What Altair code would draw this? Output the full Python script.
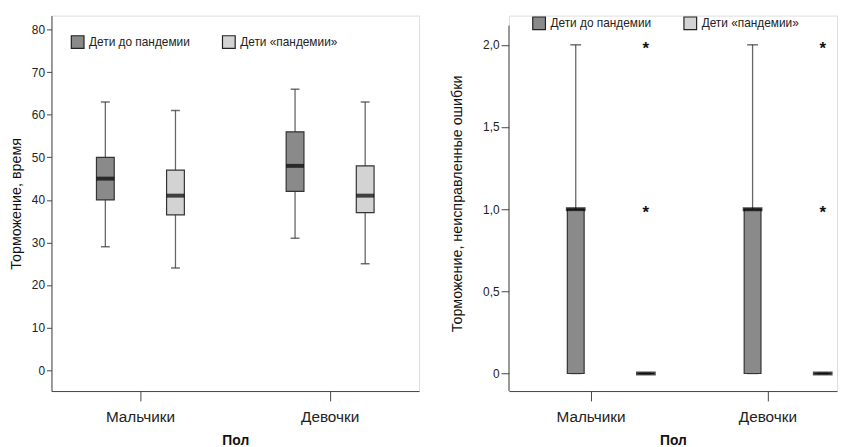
import altair as alt
import pandas as pd

# ---------------- data ----------------
sex_order = ["Мальчики", "Девочки"]
group_order = ["Дети до пандемии", "Дети «пандемии»"]
group_colors = ["#8a8a8a", "#d3d3d3"]

box_sex = ["Мальчики", "Мальчики", "Девочки", "Девочки"]
box_group = ["Дети до пандемии", "Дети «пандемии»", "Дети до пандемии", "Дети «пандемии»"]

# Торможение, время
time_min = [29, 24, 31, 25]
time_q1 = [40, 36.5, 42, 37]
time_med = [45, 41, 48, 41]
time_q3 = [50, 47, 56, 48]
time_max = [63, 61, 66, 63]

# Торможение, неисправленные ошибки
err_min = [0, 0, 0, 0]
err_q1 = [0, 0, 0, 0]
err_med = [1, 0, 1, 0]
err_q3 = [1, 0, 1, 0]
err_max = [2, 0, 2, 0]

out_sex = ["Мальчики", "Мальчики", "Девочки", "Девочки"]
out_group = ["Дети «пандемии»", "Дети «пандемии»", "Дети «пандемии»", "Дети «пандемии»"]
out_value = [1, 2, 1, 2]

time_ticks = [0, 10, 20, 30, 40, 50, 60, 70, 80]
err_ticks = [0, 0.5, 1.0, 1.5, 2.0]
err_axis_span = [-0.107, 2.117]

FONT = "Liberation Sans"


def make_df(mn, q1, med, q3, mx):
    return pd.DataFrame({"sex": box_sex, "group": box_group, "mn": mn, "q1": q1,
                         "med": med, "q3": q3, "mx": mx})


def panel(df, ydomain, yticks, ytitle, width, height, xscale, offscale, legend_xy,
          box_size, cap_size, med_size, label_expr, ytitle_pad, ytick_size,
          out_df=None, axis_span=None):
    xaxis = alt.Axis(title="Пол", labelFontSize=15.5, labelFont=FONT, labelColor="#222",
                     titleFont=FONT, titleFontSize=14, titleFontWeight="bold",
                     titleColor="#111", tickSize=10, labelPadding=9, titlePadding=9,
                     domainColor="#444", tickColor="#444", labelAngle=0)
    x = alt.X("sex:N", sort=sex_order, scale=xscale, axis=xaxis)
    xo = alt.XOffset("group:N", sort=group_order, scale=offscale)
    yscale = alt.Scale(domain=ydomain, nice=False, zero=False)
    yaxis = alt.Axis(title=ytitle, values=yticks, labelExpr=label_expr,
                     labelFontSize=12, labelFont=FONT, labelColor="#222",
                     titleFont=FONT, titleFontSize=14.5, titleFontWeight="normal",
                     titleColor="#111", tickSize=ytick_size, labelPadding=2,
                     titlePadding=ytitle_pad, domainColor="#444", tickColor="#444",
                     grid=False, domain=axis_span is None)

    def Y(f):
        return alt.Y(f, type="quantitative", scale=yscale, axis=yaxis)

    base = alt.Chart(df)
    whisk = base.mark_rule(color="#666", strokeWidth=1.3).encode(
        x=x, xOffset=xo, y=Y("mn"), y2="mx")
    cap_lo = base.mark_tick(color="#333", size=cap_size, thickness=1.5).encode(
        x=x, xOffset=xo, y=Y("mn"))
    cap_hi = base.mark_tick(color="#333", size=cap_size, thickness=1.5).encode(
        x=x, xOffset=xo, y=Y("mx"))
    box = base.mark_bar(size=box_size, stroke="#333", strokeWidth=1.2).encode(
        x=x, xOffset=xo, y=Y("q1"), y2="q3",
        color=alt.Color("group:N", sort=group_order,
                        scale=alt.Scale(domain=group_order, range=group_colors),
                        legend=alt.Legend(orient="none", legendX=legend_xy[0],
                                          legendY=legend_xy[1], direction="horizontal",
                                          title=None, symbolType="square",
                                          symbolSize=165, symbolStrokeColor="#222",
                                          symbolStrokeWidth=1.2, labelFont=FONT,
                                          labelFontSize=12, labelColor="#222",
                                          columnPadding=29, padding=0)))
    med = base.mark_tick(color="black", size=med_size, thickness=4).encode(
        x=x, xOffset=xo, y=Y("med"))
    layers = [whisk, cap_lo, cap_hi, box, med]
    if out_df is not None:
        outl = alt.Chart(out_df).mark_text(text="*", font=FONT, fontSize=17,
                                           fontWeight="bold", color="#111",
                                           baseline="middle", dy=4).encode(
            x=x, xOffset=xo, y=Y("value"))
        layers.append(outl)
    if axis_span is not None:
        axis_line = alt.Chart(pd.DataFrame({"lo": [axis_span[0]], "hi": [axis_span[1]]})
                              ).mark_rule(color="#444", strokeWidth=1).encode(
            x=alt.value(0), y=Y("lo"), y2="hi")
        layers.append(axis_line)
    return alt.layer(*layers).properties(width=width, height=height)


left = panel(
    make_df(time_min, time_q1, time_med, time_q3, time_max),
    [-4.9, 83.3], time_ticks, "Торможение, время", 372, 380,
    alt.Scale(paddingInner=0.0625, paddingOuter=0),
    alt.Scale(paddingInner=0, paddingOuter=0.268),
    (19, 19), 18, 9, 18, "datum.label", 8, 5)

out_df = pd.DataFrame({"sex": out_sex, "group": out_group, "value": out_value})
right = panel(
    make_df(err_min, err_q1, err_med, err_q3, err_max),
    [-0.107, 2.178], err_ticks, "Торможение, неисправленные ошибки", 332, 380,
    alt.Scale(paddingInner=0.218, paddingOuter=0.0365, align=1),
    alt.Scale(paddingInner=0, paddingOuter=0.06),
    (23, 0), 17, 11, 20,
    "datum.value == 0 ? '0' : replace(format(datum.value, '.1f'), '.', ',')",
    18, 8, out_df=out_df, axis_span=err_axis_span)

chart = alt.hconcat(left, right, spacing=29).resolve_scale(
    color="independent").resolve_legend(color="independent").properties(
    padding={"top": 4, "left": 0, "right": 0, "bottom": 0}
).configure_view(stroke=None).configure(background="white")

chart.save("out.html", embed_options={"renderer": "svg", "actions": False})
